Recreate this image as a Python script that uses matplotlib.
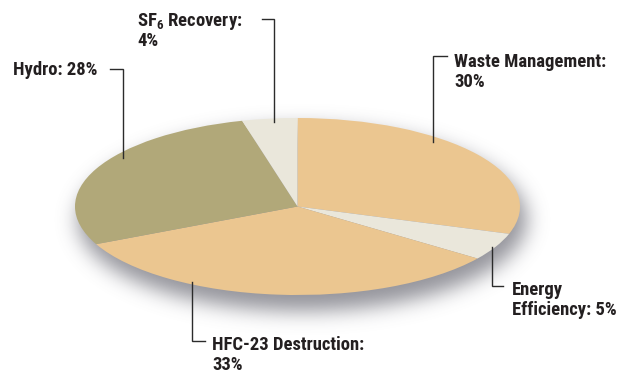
import numpy as np
import matplotlib
matplotlib.use("Agg")
import matplotlib.pyplot as plt
from matplotlib import font_manager

# Project categories and their shares (%), clockwise from 12 o'clock
categories = ["Waste Management", "Energy Efficiency", "HFC-23 Destruction", "Hydro", "SF6 Recovery"]
shares = [30, 5, 33, 28, 4]
colors = ["#EBC690", "#EAE7DB", "#EBC690", "#B1A879", "#EAE7DB"]

# label lines shown next to each wedge
label_lines = {
    "Waste Management": ["Waste Management:", "30%"],
    "Energy Efficiency": ["Energy", "Efficiency: 5%"],
    "HFC-23 Destruction": ["HFC-23 Destruction:", "33%"],
    "Hydro": ["Hydro: 28%"],
    "SF6 Recovery": [r"SF$_{6}$ Recovery:", "4%"],
}

# ---- font -------------------------------------------------------------
names = {f.name for f in font_manager.fontManager.ttflist}
if "Liberation Sans Narrow" in names:
    FAMILY, FSIZE = "Liberation Sans Narrow", 13.4
elif "Roboto Condensed" in names:
    FAMILY, FSIZE = "Roboto Condensed", 13.4
else:
    FAMILY, FSIZE = "Roboto", 12.0
plt.rcParams["mathtext.fontset"] = "custom"
plt.rcParams["mathtext.rm"] = f"{FAMILY}:bold"
plt.rcParams["mathtext.it"] = f"{FAMILY}:bold"
plt.rcParams["mathtext.bf"] = f"{FAMILY}:bold"

W, H = 620, 374
fig = plt.figure(figsize=(W / 100, H / 100), dpi=100)
fig.patch.set_facecolor("white")

# ellipse geometry in pixels
CX, CY, RA, RB = 297.5, 206.5, 222.5, 88.5

def to_px(u, v):
    return CX + RA * u, CY - RB * v

# ---- soft drop shadow -------------------------------------------------
ax_bg = fig.add_axes([0, 0, 1, 1])
ax_bg.set_xlim(0, W)
ax_bg.set_ylim(H, 0)
ax_bg.axis("off")
yy, xx = np.mgrid[0:H, 0:W] + 0.5
mask = ((((xx - (CX + 5)) / (RA + 2)) ** 2 + ((yy - (CY + 13)) / (RB + 3)) ** 2) <= 1).astype(float)
sigma = 10.0
k = np.arange(-3 * int(sigma), 3 * int(sigma) + 1)
kern = np.exp(-0.5 * (k / sigma) ** 2)
kern /= kern.sum()
blur = np.apply_along_axis(lambda r: np.convolve(r, kern, mode="same"), 1, mask)
blur = np.apply_along_axis(lambda c: np.convolve(c, kern, mode="same"), 0, blur)
shadow = np.zeros((H, W, 4))
shadow[..., :3] = (0.36, 0.36, 0.40)
shadow[..., 3] = blur * 0.65
ax_bg.imshow(shadow, extent=(0, W, H, 0), interpolation="bilinear", zorder=0)

# ---- the pie, squashed into an ellipse ---------------------------------
ax_pie = fig.add_axes([(CX - RA) / W, 1 - (CY + RB) / H, 2 * RA / W, 2 * RB / H])
ax_pie.pie(shares, colors=colors, startangle=90, counterclock=False,
           radius=1.0, wedgeprops=dict(linewidth=0))
ax_pie.set_aspect("auto")
ax_pie.set_xlim(-1, 1)
ax_pie.set_ylim(-1, 1)
ax_pie.axis("off")

# ---- leader lines and labels ------------------------------------------
ax = fig.add_axes([0, 0, 1, 1])
ax.set_xlim(0, W)
ax.set_ylim(H, 0)
ax.axis("off")
ax.patch.set_alpha(0)

# anchor inside wedge (unit-ellipse coords), elbow y, tick end x, text x, first baseline
leaders = {
    "SF6 Recovery":       dict(anchor=(-0.106, 0.955), elbow=19,  tick=262, tx=137, base=26),
    "Hydro":              dict(anchor=(-0.784, 0.548), elbow=69,  tick=110, tx=13,  base=75),
    "Waste Management":   dict(anchor=(0.611, 0.729),  elbow=56,  tick=447, tx=454, base=67),
    "Energy Efficiency":  dict(anchor=(0.874, -0.458), elbow=286, tick=503, tx=512, base=295),
    "HFC-23 Destruction": dict(anchor=(-0.472, -0.853), elbow=341, tick=205, tx=212, base=350),
}
LINE_STEP = 20
for cat in categories:
    p = leaders[cat]
    ax_x, ax_y = to_px(*p["anchor"])
    ax.plot([ax_x, ax_x, p["tick"]], [ax_y, p["elbow"], p["elbow"]],
            color="#2b2b2b", lw=1.0, solid_joinstyle="miter", zorder=3)
    for i, line in enumerate(label_lines[cat]):
        ax.text(p["tx"], p["base"] + i * LINE_STEP, line, family=FAMILY,
                weight="bold", fontsize=FSIZE, color="#231F20",
                ha="left", va="baseline", zorder=4)

fig.savefig("out.png", dpi=100, facecolor="white")
